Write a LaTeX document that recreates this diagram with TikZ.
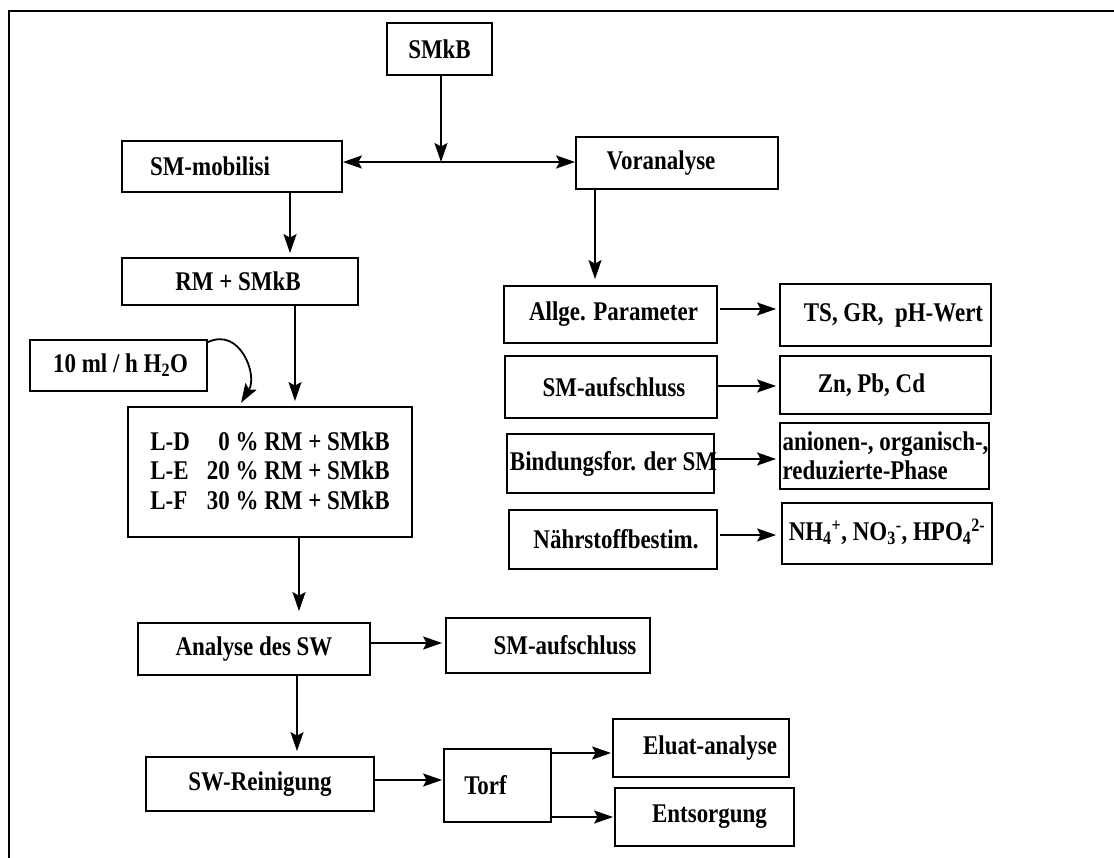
\documentclass[tikz,border=0pt]{standalone}
\usepackage{fontspec}
\setmainfont{Liberation Serif}[FakeStretch=0.85]
\usetikzlibrary{arrows.meta}
\begin{document}
\begin{tikzpicture}[x=1pt,y=-1pt,
  box/.style={draw, line width=1.8pt, inner sep=0pt},
  lbl/.style={font=\bfseries\fontsize{27}{29.5}\selectfont, inner sep=0pt},
  arr/.style={line width=1.8pt, -{Stealth[length=19pt,width=13pt,inset=3.5pt]}},
]
\useasboundingbox (0,0) rectangle (1114,858);

% outer frame (left and top edges only)
\draw[line width=2.5pt] (9,860) -- (9,11) -- (1116,11);

% left column
\node[box, minimum width=105pt, minimum height=52pt, label={[lbl]center:SMkB}] (smkb) at (439.5,49) {};
\node[box, minimum width=220pt, minimum height=51pt, label={[lbl,xshift=-22pt]center:SM-mobilisi}] (mob) at (232,166.5) {};
\node[box, minimum width=202pt, minimum height=52pt, label={[lbl,xshift=-16pt]center:Voranalyse}] (vor) at (677,163) {};
\node[box, minimum width=236pt, minimum height=47pt, label={[lbl,xshift=-2pt]center:RM + SMkB}] (rm) at (240,281.5) {};
\node[box, minimum width=177pt, minimum height=51pt, label={[lbl,xshift=2pt]center:{10 ml / h H\textsubscript{2}O}}] (h2o) at (118.5,365.5) {};
\node[box, minimum width=284pt, minimum height=130pt,
  label={[lbl,yshift=-2pt]center:{\begin{tabular}{@{}l@{\hspace{17pt}}r@{}}
    L-D & 0 \% RM + SMkB\\
    L-E & 20 \% RM + SMkB\\
    L-F & 30 \% RM + SMkB
  \end{tabular}}}] (lbox) at (270,472) {};
\node[box, minimum width=232pt, minimum height=52pt, label={[lbl]center:Analyse des SW}] (ana) at (254,649) {};
\node[box, minimum width=228pt, minimum height=54pt, label={[lbl]center:SW-Reinigung}] (swr) at (260,784) {};

% analysis column
\node[box, minimum width=213pt, minimum height=57pt, label={[lbl,xshift=3pt]center:Allge. Parameter}] (allg) at (610.5,314.5) {};
\node[box, minimum width=212pt, minimum height=62pt, label={[lbl,xshift=3pt]center:SM-aufschluss}] (auf) at (611,387) {};
\node[box, minimum width=207pt, minimum height=59pt, label={[lbl,xshift=3pt]center:Bindungsfor. der SM}] (bind) at (610.5,463.5) {};
\node[box, minimum width=208pt, minimum height=59pt, label={[lbl,xshift=3pt]center:Nährstoffbestim.}] (naehr) at (613,539.5) {};

% result column
\node[box, minimum width=211pt, minimum height=62pt, label={[lbl,xshift=8pt]center:{TS, GR, \ pH-Wert}}] (ts) at (885.5,315) {};
\node[box, minimum width=211pt, minimum height=58pt, label={[lbl,xshift=-14pt]center:{Zn, Pb, Cd}}] (zn) at (885.5,385) {};
\node[box, minimum width=209pt, minimum height=66pt, label={[lbl,xshift=1pt,align=left]center:{anionen-, organisch-,\\reduzierte-Phase}}] (anion) at (884.5,456) {};
\node[box, minimum width=210pt, minimum height=61pt, label={[lbl,yshift=2pt]center:{NH\textsubscript{4}\textsuperscript{+}, NO\textsubscript{3}\textsuperscript{-}, HPO\textsubscript{4}\textsuperscript{2-}}}] (nh) at (887,533.5) {};

% lower right
\node[box, minimum width=204pt, minimum height=55pt, label={[lbl,xshift=17pt]center:SM-aufschluss}] (auf2) at (548,645.5) {};
\node[box, minimum width=107pt, minimum height=73pt, label={[lbl,xshift=-12pt]center:Torf}] (torf) at (497.5,785.5) {};
\node[box, minimum width=176pt, minimum height=58pt, label={[lbl,xshift=9pt]center:Eluat-analyse}] (elu) at (701,748) {};
\node[box, minimum width=179pt, minimum height=58pt, label={[lbl,xshift=5pt]center:Entsorgung}] (ent) at (704.5,817) {};

% split point below SMkB
\coordinate (hub) at (441,162);

% connectors
\draw[arr] (smkb.south -| hub) -- (hub);
\draw[arr] (hub) -- (mob.east |- hub);
\draw[arr] (hub) -- (vor.west |- hub);
\draw[arr,shorten >=4pt] (mob.south -| 290,0) -- (rm.north -| 290,0);
\draw[arr,shorten >=5pt] (rm.south -| 295,0) -- (lbox.north -| 295,0);
\draw[arr,shorten >=4pt] ([yshift=-3pt]h2o.north east) .. controls (240,327) and (258,375) .. (lbox.north -| 239,0);
\draw[arr,shorten >=11pt] (lbox.south -| 299,0) -- (ana.north -| 299,0);
\draw[arr,shorten >=3pt] (ana.east |- 0,643) -- (auf2.west |- 0,643);
\draw[arr,shorten >=5pt] (ana.south -| 297,0) -- (swr.north -| 297,0);
\draw[arr,shorten >=1pt] (swr.east |- 0,780) -- (torf.west |- 0,780);
\draw[arr,shorten >=1pt] (torf.east |- 0,753) -- (elu.west |- 0,753);
\draw[arr,shorten >=1pt] (torf.east |- 0,817) -- (ent.west |- 0,817);

\draw[arr,shorten >=6pt] (vor.south -| 595,0) -- (allg.north -| 595,0);
\draw[arr,shorten <=2pt,shorten >=3pt] (allg.east |- 0,309) -- (ts.west |- 0,309);
\draw[arr,shorten >=3pt] (auf.east |- 0,386) -- (zn.west |- 0,386);
\draw[arr,shorten >=3pt] (bind.east |- 0,459) -- (anion.west |- 0,459);
\draw[arr,shorten <=2pt,shorten >=5pt] (naehr.east |- 0,535) -- (nh.west |- 0,535);
\end{tikzpicture}
\end{document}
